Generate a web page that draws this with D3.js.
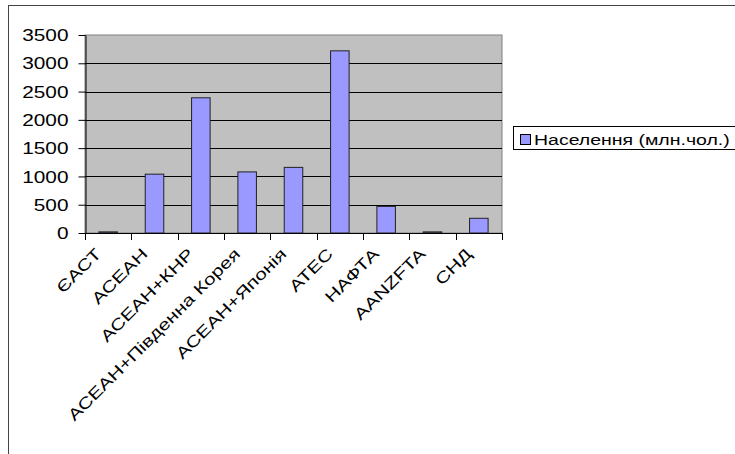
<!DOCTYPE html>
<html>
<head>
<meta charset="utf-8">
<script src="https://cdn.jsdelivr.net/npm/d3@7"></script>
<style>
  html, body { margin: 0; padding: 0; background: #fff; }
  text { font-family: "Liberation Sans", Arial, sans-serif; }
</style>
</head>
<body>
<div id="root"></div>
<script>
const SVG_WIDTH = 735;
const SVG_HEIGHT = 454;

// дані діаграми
const categories = ['ЄАСТ', 'АСЕАН', 'АСЕАН+КНР', 'АСЕАН+Південна Корея', 'АСЕАН+Японія', 'АТЕС', 'НАФТА', 'AANZFTA', 'СНД'];
const population = [20, 1040, 2390, 1080, 1160, 3220, 470, 20, 260];
const yTicks = [0, 500, 1000, 1500, 2000, 2500, 3000, 3500];
const seriesName = 'Населення (млн.чол.)';

const PLOT = { left: 85, right: 502, top: 35, bottom: 233 };
const TEXT_SX = 1.3; // шрифт у оригіналі розтягнутий по горизонталі

function addSvg() {
  const svg = d3.select('#root').append('svg')
    .attr('id', 'svg')
    .attr('width', SVG_WIDTH)
    .attr('height', SVG_HEIGHT);
  return svg;
}

function draw(svg) {
  const x = d3.scaleBand().domain(categories).range([PLOT.left, PLOT.right]).paddingInner(0.6).paddingOuter(0.3);
  const y = d3.scaleLinear().domain([0, 3500]).range([PLOT.bottom, PLOT.top]);
  const step = x.step();

  // рамка діаграми
  svg.append('rect')
    .attr('x', 8.5).attr('y', 5.5)
    .attr('width', 800).attr('height', 600)
    .attr('fill', 'none').attr('stroke', '#444').attr('stroke-width', 1);

  // фон області побудови
  svg.append('rect')
    .attr('x', PLOT.left).attr('y', PLOT.top)
    .attr('width', PLOT.right - PLOT.left).attr('height', PLOT.bottom - PLOT.top)
    .attr('fill', '#c0c0c0').attr('stroke', '#808080').attr('stroke-width', 1);

  // лінії сітки
  svg.append('g').selectAll('line').data(yTicks.filter((d) => d > 0 && d < 3500)).join('line')
    .attr('x1', PLOT.left).attr('x2', PLOT.right)
    .attr('y1', (d) => Math.round(y(d)) + 0.5).attr('y2', (d) => Math.round(y(d)) + 0.5)
    .attr('stroke', '#000').attr('stroke-width', 1);

  // стовпці
  svg.append('g').selectAll('rect').data(population).join('rect')
    .attr('x', (d, i) => x(categories[i]))
    .attr('y', (d) => y(d))
    .attr('width', x.bandwidth())
    .attr('height', (d) => y(0) - y(d))
    .attr('fill', '#9999ff').attr('stroke', '#222').attr('stroke-width', 1);

  // вісь Y
  const yAxis = d3.axisLeft(y).tickValues(yTicks).tickSize(7).tickSizeOuter(0).tickFormat((d) => d);
  const gy = svg.append('g').attr('transform', `translate(${PLOT.left + 0.5},0)`).call(yAxis);
  gy.select('.domain').attr('stroke', '#000');
  gy.selectAll('.tick line').attr('stroke', '#000');
  gy.selectAll('.tick text')
    .attr('font-size', 16).attr('fill', '#000')
    .attr('x', 0).attr('dy', '0.35em')
    .attr('transform', `translate(-17,0) scale(${TEXT_SX},1)`);

  // вісь X
  const bounds = categories.map((c) => x(c) + x.bandwidth() / 2 - step / 2).concat([PLOT.right]);
  const gx = svg.append('g');
  gx.append('line')
    .attr('x1', PLOT.left).attr('x2', PLOT.right + 1)
    .attr('y1', PLOT.bottom + 0.5).attr('y2', PLOT.bottom + 0.5)
    .attr('stroke', '#000');
  gx.selectAll('line.tk').data(bounds).join('line').attr('class', 'tk')
    .attr('x1', (d) => Math.round(d) + 0.5).attr('x2', (d) => Math.round(d) + 0.5)
    .attr('y1', PLOT.bottom).attr('y2', PLOT.bottom + 7)
    .attr('stroke', '#000');
  gx.selectAll('text').data(categories).join('text')
    .attr('text-anchor', 'end')
    .attr('font-size', 16).attr('fill', '#000')
    .attr('transform', (d) => `translate(${x(d) + x.bandwidth() / 2 - 6},${PLOT.bottom + 22}) rotate(-45) scale(${TEXT_SX},1)`)
    .text((d) => d);

  // легенда
  const lg = svg.append('g');
  lg.append('rect')
    .attr('x', 513.5).attr('y', 126.5).attr('width', 230).attr('height', 23)
    .attr('fill', '#fff').attr('stroke', '#000');
  lg.append('rect')
    .attr('x', 520.5).attr('y', 134.5).attr('width', 10).attr('height', 10)
    .attr('fill', '#9999ff').attr('stroke', '#000');
  lg.append('text')
    .attr('font-size', 15).attr('fill', '#000')
    .attr('transform', `translate(534,144.5) scale(${TEXT_SX},1)`)
    .text(seriesName);
}

const svg = addSvg();
draw(svg);
</script>
</body>
</html>
